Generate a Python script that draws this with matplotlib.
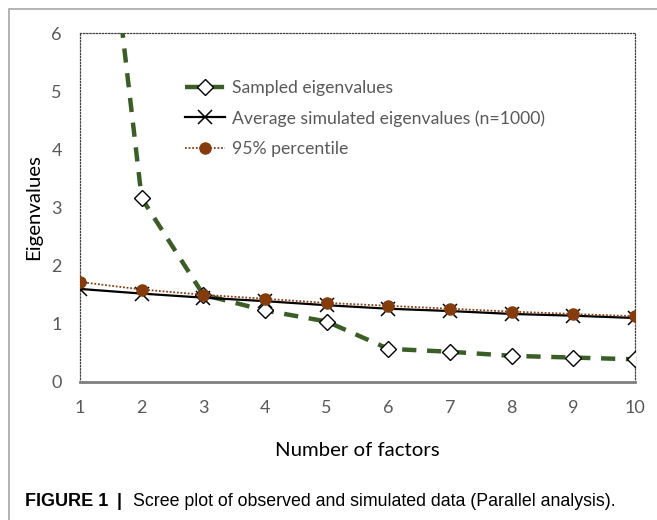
import matplotlib
matplotlib.use("Agg")
import matplotlib.pyplot as plt
from matplotlib.patches import Rectangle

factors = [1, 2, 3, 4, 5, 6, 7, 8, 9, 10]
sampled = [12.3, 3.16, 1.50, 1.23, 1.04, 0.57, 0.52, 0.45, 0.42, 0.39]
average_sim = [1.60, 1.52, 1.45, 1.39, 1.32, 1.26, 1.22, 1.17, 1.14, 1.10]
percentile95 = [1.72, 1.59, 1.50, 1.43, 1.36, 1.31, 1.26, 1.21, 1.17, 1.13]
y_ticks = [0, 1, 2, 3, 4, 5, 6]
labels = ["Sampled eigenvalues", "Average simulated eigenvalues (n=1000)", "95% percentile"]

W, H = 657, 520
fig = plt.figure(figsize=(W / 100, H / 100), dpi=100)

# outer frame (clipped on right and bottom)
fig.add_artist(Rectangle((9 / W, -0.1), 2, 1.1 - 9 / H, transform=fig.transFigure,
                         fill=False, edgecolor="#a6a6a6", linewidth=1.2))

ax = fig.add_axes([80 / W, 1 - 382 / H, (635 - 80) / W, (382 - 33) / H])
font = "Lato"
gray = "#595959"

ax.plot(factors, sampled, color="#3b5e26", linestyle=(0, (3.2, 2.4)), linewidth=3.2,
        marker="D", markersize=8.5, markerfacecolor="white", markeredgecolor="black",
        markeredgewidth=1.0, label=labels[0], zorder=3)
ax.plot(factors, average_sim, color="black", linewidth=1.6, marker="x", markersize=10,
        markeredgewidth=1.1, label=labels[1], zorder=4)
ax.plot(factors, percentile95, color="#8B3E10", linestyle=(0, (1, 1)), linewidth=1.3,
        marker="o", markersize=8, markerfacecolor="#843C0C", markeredgecolor="#843C0C",
        label=labels[2], zorder=5)

ax.set_xlim(1, 10)
ax.set_ylim(0, 6)
ax.set_xticks(factors)
ax.set_yticks(y_ticks)
ax.tick_params(length=0, labelsize=13, labelcolor=gray, pad=13)
for lab in ax.get_xticklabels() + ax.get_yticklabels():
    lab.set_fontfamily(font)
ax.tick_params(axis="y", pad=13)

for s in ["left", "top", "right"]:
    ax.spines[s].set_linestyle((0, (1, 1.5)))
    ax.spines[s].set_color("#404040")
    ax.spines[s].set_linewidth(0.9)
ax.spines["bottom"].set_color("#7f7f7f")
ax.spines["bottom"].set_linewidth(2)

ax.set_xlabel("Number of factors", fontsize=14.7, fontfamily=font, labelpad=19)
ax.set_ylabel("Eigenvalues", fontsize=14.7, fontfamily=font, labelpad=7)

leg = ax.legend(loc="upper left", bbox_to_anchor=(0.189, 0.866), frameon=False,
                prop={"family": font, "size": 12.7}, handlelength=2.27, labelspacing=0.81,
                handletextpad=0.4, borderpad=0, borderaxespad=0, labelcolor=gray)

fig.text(25 / W, 1 - 502 / H, "FIGURE 1", fontsize=13, fontweight="bold",
         fontfamily="Liberation Sans", va="center", ha="left")
fig.text(117 / W, 1 - 502 / H, "|", fontsize=13, fontweight="bold",
         fontfamily="Liberation Sans", va="center", ha="left")
fig.text(133 / W, 1 - 502 / H, "Scree plot of observed and simulated data (Parallel analysis).",
         fontsize=12.8, fontfamily="Liberation Sans", va="center", ha="left")

fig.savefig("out.png", dpi=100)
